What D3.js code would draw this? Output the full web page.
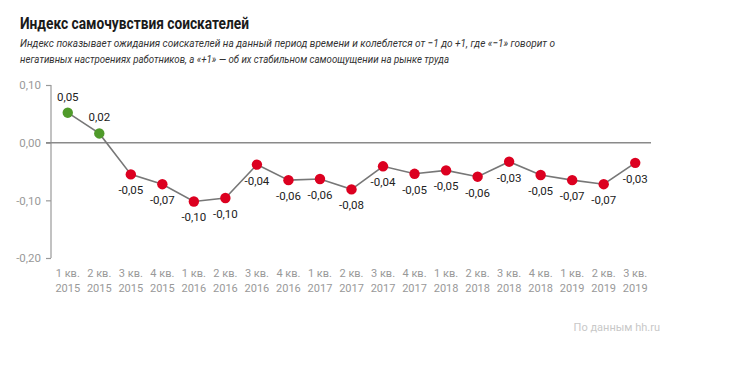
<!DOCTYPE html>
<html>
<head>
<meta charset="utf-8">
<script src="https://cdn.jsdelivr.net/npm/d3@7"></script>
<style>
  body { margin: 0; background: #fff; }
  svg { display: block; font-family: Roboto, "Noto Sans", sans-serif; }
</style>
</head>
<body>
<div id="chart"></div>
<script>
// quarters and years shown under the axis
var quarters = ["1 кв.", "2 кв.", "3 кв.", "4 кв.", "1 кв.", "2 кв.", "3 кв.", "4 кв.", "1 кв.", "2 кв.",
                "3 кв.", "4 кв.", "1 кв.", "2 кв.", "3 кв.", "4 кв.", "1 кв.", "2 кв.", "3 кв."];
var years = ["2015", "2015", "2015", "2015", "2016", "2016", "2016", "2016", "2017", "2017",
             "2017", "2017", "2018", "2018", "2018", "2018", "2019", "2019", "2019"];
// index values and their printed labels
var values = [0.052, 0.016, -0.055, -0.072, -0.102, -0.096, -0.038, -0.065, -0.063, -0.081,
              -0.041, -0.054, -0.048, -0.059, -0.033, -0.056, -0.065, -0.072, -0.035];
var labels = ["0,05", "0,02", "-0,05", "-0,07", "-0,10", "-0,10", "-0,04", "-0,06", "-0,06", "-0,08",
              "-0,04", "-0,05", "-0,05", "-0,06", "-0,03", "-0,05", "-0,07", "-0,07", "-0,03"];
var yTicks = [0.10, 0.00, -0.10, -0.20];

var width = 750, height = 386;
var svg = d3.select("#chart").append("svg").attr("width", width).attr("height", height);

svg.append("text").attr("x", 20).attr("y", 29)
    .attr("font-size", 17).attr("font-weight", "bold").attr("fill", "#1a1a1a")
    .attr("textLength", 229).attr("lengthAdjust", "spacingAndGlyphs")
    .text("Индекс самочувствия соискателей");
svg.append("text").attr("x", 20).attr("y", 47)
    .attr("font-size", 11.5).attr("font-style", "italic").attr("fill", "#333")
    .attr("textLength", 535).attr("lengthAdjust", "spacingAndGlyphs")
    .text("Индекс показывает ожидания соискателей на данный период времени и колеблется от −1 до +1, где «−1» говорит о");
svg.append("text").attr("x", 20).attr("y", 63)
    .attr("font-size", 11.5).attr("font-style", "italic").attr("fill", "#333")
    .attr("textLength", 429).attr("lengthAdjust", "spacingAndGlyphs")
    .text("негативных настроениях работников, а «+1» — об их стабильном самоощущении на рынке труда");

var x = d3.scaleBand().domain(d3.range(values.length)).range([52, 651]).padding(0);
var y = d3.scaleLinear().domain([-0.20, 0.10]).range([258, 85]);

// y axis
var yAxis = svg.append("g").attr("transform", "translate(51,0)")
    .call(d3.axisLeft(y).tickValues(yTicks).tickSize(5).tickPadding(5)
        .tickFormat(function(d) { return d3.format(".2f")(d).replace(".", ",").replace("−", "-"); }));
yAxis.select(".domain").attr("stroke", "#999").attr("stroke-width", 1.2).attr("d", "M0,85V258");
yAxis.selectAll(".tick line").attr("stroke", "#999").attr("stroke-width", 1.2);
yAxis.selectAll(".tick text").attr("fill", "#999").attr("font-size", 11.5).attr("font-family", "Roboto, sans-serif");

// zero line
svg.append("line").attr("x1", 46).attr("x2", 651).attr("y1", y(0)).attr("y2", y(0))
    .attr("stroke", "#8a8a8a").attr("stroke-width", 1.5);

// x labels
var cx = function(i) { return x(i) + x.bandwidth() / 2; };
var xl = svg.append("g").selectAll("text").data(values).enter().append("text")
    .attr("text-anchor", "middle").attr("fill", "#999").attr("font-size", 11);
xl.append("tspan").attr("x", function(d, i) { return cx(i); }).attr("y", 277)
    .text(function(d, i) { return quarters[i]; });
xl.append("tspan").attr("x", function(d, i) { return cx(i); }).attr("y", 292)
    .text(function(d, i) { return years[i]; });

// line
var line = d3.line().x(function(d, i) { return cx(i); }).y(function(d) { return y(d); });
svg.append("path").datum(values).attr("d", line)
    .attr("fill", "none").attr("stroke", "#777").attr("stroke-width", 1.6);

// dots
svg.append("g").selectAll("circle").data(values).enter().append("circle")
    .attr("cx", function(d, i) { return cx(i); }).attr("cy", function(d) { return y(d); })
    .attr("r", 5.2)
    .attr("fill", function(d) { return d > 0 ? "#4f9a2a" : "#dc0020"; });

// value labels
svg.append("g").selectAll("text").data(values).enter().append("text")
    .attr("x", function(d, i) { return cx(i); })
    .attr("y", function(d) { return d > 0 ? y(d) - 12 : y(d) + 20; })
    .attr("text-anchor", "middle").attr("font-size", 11.5).attr("fill", "#222")
    .text(function(d, i) { return labels[i]; });

svg.append("text").attr("x", 660).attr("y", 331).attr("text-anchor", "end")
    .attr("font-size", 11).attr("fill", "#c8c8c8").text("По данным hh.ru");
</script>
</body>
</html>
